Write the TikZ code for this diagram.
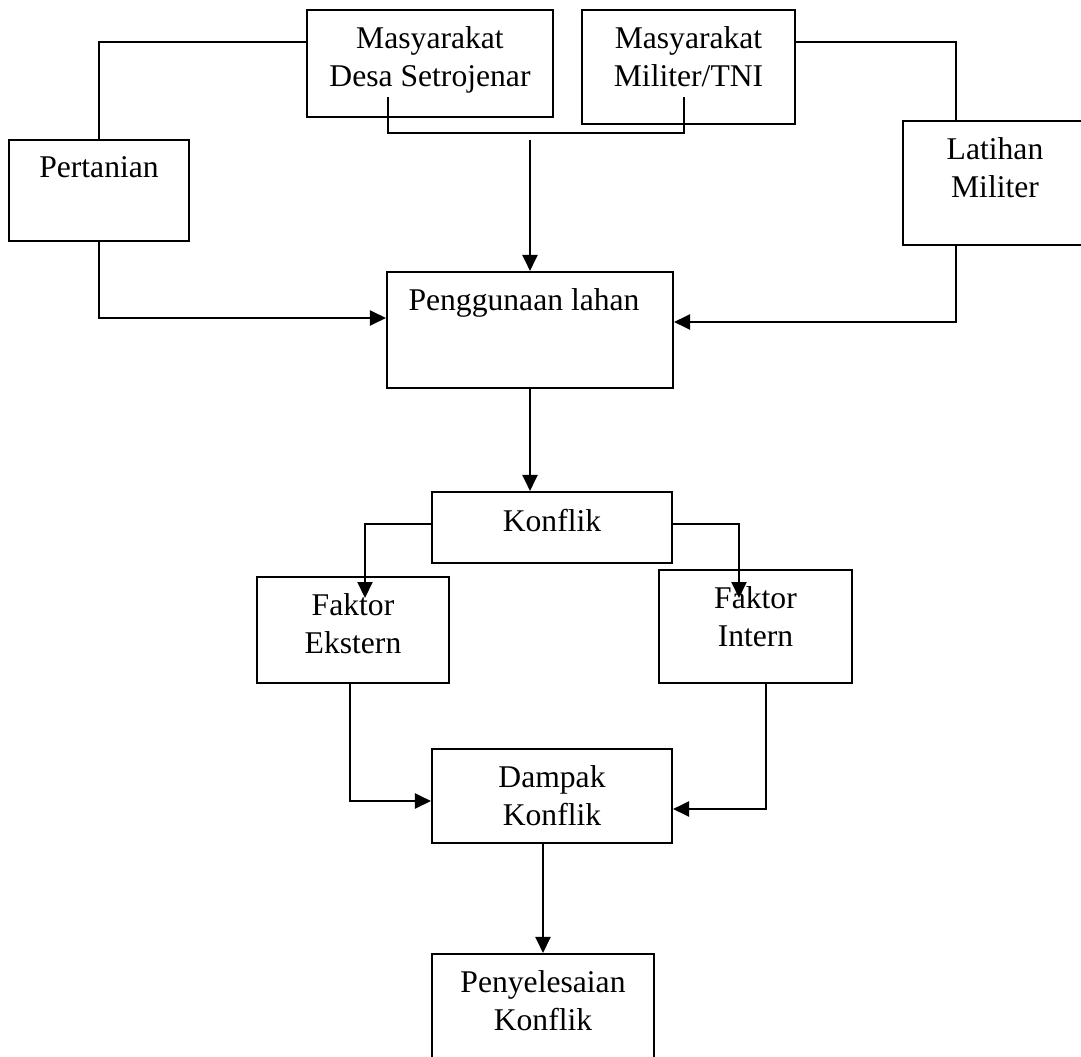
\documentclass[tikz,border=0pt]{standalone}
\usepackage{fontspec}
\setmainfont{Liberation Serif}
\usepackage{tikz}
\usetikzlibrary{arrows.meta}

\tikzset{
	box/.style={draw, line width=1.2pt, inner sep=0pt},
	lbl/.style={anchor=north, align=center, inner sep=0pt, yshift=-0.35cm,
		font=\fontsize{18pt}{21.6pt}\selectfont},
	wire/.style={line width=1.2pt},
	arr/.style={line width=1.2pt, -{Triangle[length=0.32cm,width=0.3cm]}}
}

\begin{document}
\begin{tikzpicture}[x=0.02cm, y=-0.02cm]
		
		\useasboundingbox (0,0) rectangle (1081,1057);
		\clip (0,0) rectangle (1081,1057);
		
		\node[box, minimum width=4.92cm, minimum height=2.14cm] (desa) at (430,63.5) {};
		\node[box, minimum width=4.26cm, minimum height=2.28cm] (militer) at (688.5,67) {};
		\node[box, minimum width=3.6cm, minimum height=2.02cm] (tani) at (99,190.5) {};
		\node[box, minimum width=3.68cm, minimum height=2.48cm] (latihan) at (995,183) {};
		\node[box, minimum width=5.72cm, minimum height=2.32cm] (lahan) at (530,330) {};
		\node[box, minimum width=4.8cm, minimum height=1.42cm] (konflik) at (552,527.5) {};
		\node[box, minimum width=3.84cm, minimum height=2.12cm] (ekstern) at (353,630) {};
		\node[box, minimum width=3.86cm, minimum height=2.26cm] (intern) at (755.5,626.5) {};
		\node[box, minimum width=4.8cm, minimum height=1.88cm] (dampak) at (552,796) {};
		\node[box, minimum width=4.44cm, minimum height=2.92cm] (selesai) at (543,1027) {};
		
		\node[lbl] (desa-t) at (desa.north) {Masyarakat\\Desa Setrojenar};
		\node[lbl] (militer-t) at (militer.north) {Masyarakat\\Militer/TNI};
		\node[lbl] (tani-t) at (tani.north) {Pertanian};
		\node[lbl] (latihan-t) at (latihan.north) {Latihan\\Militer};
		\node[lbl, xshift=-0.12cm] (lahan-t) at (lahan.north) {Penggunaan lahan};
		\node[lbl] (konflik-t) at (konflik.north) {Konflik};
		\node[lbl] (ekstern-t) at (ekstern.north) {Faktor\\Ekstern};
		\node[lbl] (intern-t) at (intern.north) {Faktor\\Intern};
		\node[lbl] (dampak-t) at (dampak.north) {Dampak\\Konflik};
		\node[lbl] (selesai-t) at (selesai.north) {Penyelesaian\\Konflik};
		
		\coordinate (br-l) at (388,97);
		\coordinate (br-r) at (684,97);
		\coordinate (ek-in) at (365,598);
		\coordinate (in-in) at (739,598);
		
		\draw[wire] (tani.north) |- (desa.west |- 0,42);
		\draw[wire] (militer.east |- 0,42) -| (latihan.north -| 956,0);
		\draw[wire] (br-l) |- (684,133) -- (br-r);
		\draw[arr] (lahan.north |- 0,140) -- (lahan.north);
		
		\draw[arr] (tani.south) |- (lahan.west |- 0,318);
		\draw[arr] (latihan.south -| 956,0) |- (lahan.east |- 0,322);
		\draw[arr] (lahan.south) -- (lahan.south |- konflik.north);
		
		\draw[arr] (konflik.west |- 0,524) -| (ek-in);
		\draw[arr] (konflik.east |- 0,524) -| (in-in);
		
		\draw[arr] (ekstern.south -| 350,0) |- (dampak.west |- 0,801);
		\draw[arr] (intern.south -| 766,0) |- (dampak.east |- 0,809);
		\draw[arr] (dampak.south -| selesai.north) -- (selesai.north);
		
	\end{tikzpicture}
\end{document}
